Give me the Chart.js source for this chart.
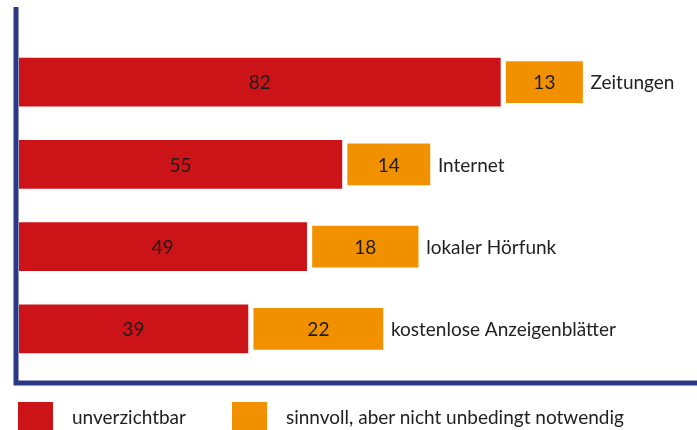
<!DOCTYPE html>
<html>
<head>
<meta charset="utf-8">
<script src="https://cdn.jsdelivr.net/npm/chart.js@4"></script>
<style>
  html, body { margin: 0; padding: 0; background: #fff; }
  #wrap { position: relative; width: 697px; height: 430px; overflow: hidden; }
  #legend { position: absolute; left: 18px; top: 402px; display: flex; gap: 46px; font-family: Lato, sans-serif; font-size: 19px; color: #222; }
  #legend .item { display: flex; align-items: flex-start; }
  #legend .box { width: 35px; height: 30px; margin-right: 19px; }
  #legend .txt { line-height: 28px; padding-top: 1px; }
</style>
</head>
<body>
<div id="wrap">
  <canvas id="chart" width="697" height="430"></canvas>
  <div id="legend"></div>
</div>
<script>
var categories = ["Zeitungen", "Internet", "lokaler Hörfunk", "kostenlose Anzeigenblätter"];
var unverzichtbar = [82, 55, 49, 39];
var sinnvoll = [13, 14, 18, 22];
var seriesLabels = ["unverzichtbar", "sinnvoll, aber nicht unbedingt notwendig"];
var seriesColors = ["#cc1418", "#f29100"];

var gap = 1; // small white gap between the two segments
var sinnvollBars = sinnvoll.map(function(v, i) {
    return [unverzichtbar[i] + gap, unverzichtbar[i] + gap + v];
});

// value labels inside the bars and category names after the orange bar
var labelPlugin = {
    id: "labels",
    afterDatasetsDraw: function(chart) {
        var ctx = chart.ctx;
        ctx.save();
        ctx.textBaseline = "middle";
        ctx.fillStyle = "#1c1c1c";
        ctx.font = "19px Lato";
        ctx.textAlign = "center";
        var red = chart.getDatasetMeta(0).data;
        var orange = chart.getDatasetMeta(1).data;
        for (let i = 0; i < categories.length; i++) {
            ctx.fillText(String(unverzichtbar[i]), (red[i].x + red[i].base) / 2, red[i].y + 1);
            ctx.fillText(String(sinnvoll[i]), (orange[i].x + orange[i].base) / 2, orange[i].y + 1);
        }
        ctx.textAlign = "left";
        ctx.font = "19px Lato";
        ctx.fillStyle = "#222";
        for (let i = 0; i < categories.length; i++) {
            ctx.fillText(categories[i], orange[i].x + 8, orange[i].y + 1);
        }
        ctx.restore();
    },
    afterDraw: function(chart) {
        var ctx = chart.ctx;
        var a = chart.chartArea;
        ctx.save();
        ctx.strokeStyle = "#2a3886";
        ctx.lineWidth = 5;
        ctx.beginPath();
        ctx.moveTo(a.left - 3, 7);
        ctx.lineTo(a.left - 3, 385);
        ctx.moveTo(a.left - 5.5, 383);
        ctx.lineTo(chart.width, 383);
        ctx.stroke();
        ctx.restore();
    }
};

var ctx = document.getElementById("chart").getContext("2d");
var myChart = new Chart(ctx, {
    type: "bar",
    data: {
        labels: categories,
        datasets: [{
            label: seriesLabels[0],
            data: unverzichtbar,
            backgroundColor: seriesColors[0],
            barThickness: 48,
            grouped: false,
        }, {
            label: seriesLabels[1],
            data: sinnvollBars,
            backgroundColor: seriesColors[1],
            barThickness: 41,
            grouped: false,
        }],
    },
    options: {
        indexAxis: "y",
        responsive: false,
        animation: false,
        layout: {
            padding: { left: 19, right: 0, top: 41, bottom: 60 },
        },
        plugins: {
            legend: { display: false },
            tooltip: { enabled: false },
        },
        scales: {
            x: { display: false, min: 0, max: 115.5 },
            y: { display: false },
        },
    },
    plugins: [labelPlugin],
});

var legend = document.getElementById("legend");
seriesLabels.forEach(function(lbl, i) {
    var item = document.createElement("div");
    item.className = "item";
    var box = document.createElement("div");
    box.className = "box";
    box.style.background = seriesColors[i];
    var txt = document.createElement("div");
    txt.className = "txt";
    txt.textContent = lbl;
    item.appendChild(box);
    item.appendChild(txt);
    legend.appendChild(item);
});
</script>
</body>
</html>
